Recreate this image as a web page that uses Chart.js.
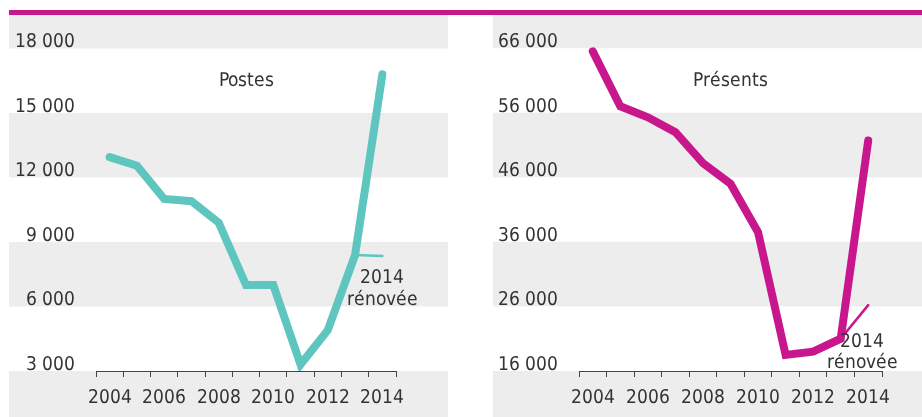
<!DOCTYPE html>
<html lang="fr">
<head>
<meta charset="utf-8">
<script src="https://cdn.jsdelivr.net/npm/chart.js@4"></script>
<style>
  @font-face {
    font-family: "Etroite";
    src: local("Liberation Sans Narrow"), local("LiberationSansNarrow"), local("LiberationSansNarrow-Regular"),
         local("DejaVu Sans Condensed"), local("DejaVuSansCondensed");
  }
  body { margin: 0; background: #fff; width: 922px; height: 417px; position: relative; overflow: hidden; }
  #barre { position: absolute; left: 9px; top: 10px; width: 913px; height: 5px; background: #c8178c; }
  .panneau { position: absolute; top: 15px; }
</style>
</head>
<body>
<div id="barre"></div>
<canvas id="graphePostes" class="panneau" width="439" height="402" style="left:9px"></canvas>
<canvas id="graphePresents" class="panneau" width="429" height="402" style="left:493px"></canvas>
<script>
const annees = ["2004", "2005", "2006", "2007", "2008", "2009", "2010", "2011", "2012", "2013", "2014"];

const postes = [12950, 12550, 11000, 10900, 9900, 7000, 7000, 3300, 4900, 8400, 16800];
const postesRenovee = [null, null, null, null, null, null, null, null, null, 8400, 8350];
const ticksPostes = [3000, 6000, 9000, 12000, 15000, 18000];

const presents = [65500, 57000, 55300, 53000, 48200, 45000, 37500, 18500, 19000, 21000, 51700];
const presentsRenovee = [null, null, null, null, null, null, null, null, null, 21000, 26200];
const ticksPresents = [16000, 26000, 36000, 46000, 56000, 66000];

const police = "Etroite, Roboto, sans-serif";
const taille = 19;
const gris = "#ededed";
const texte = "#333333";

function formaterMilliers(v) {
    return String(v).replace(/\B(?=(\d{3})+(?!\d))/g, " ");
}

// Bandes grises alternées, calées sur les graduations
const pluginBandes = {
    id: "bandes",
    beforeDraw(chart) {
        const { ctx, scales: { y } } = chart;
        const vals = y.ticks.map(t => t.value);
        const bords = [chart.height, ...vals.map(v => y.getPixelForValue(v)), 0];
        ctx.save();
        ctx.fillStyle = gris;
        for (let i = 0; i < bords.length - 1; i++) {
            if (i % 2 === 0) {
                ctx.fillRect(0, bords[i + 1], chart.width, bords[i] - bords[i + 1]);
            }
        }
        ctx.restore();
    }
};

// Titre du panneau et note "2014 rénovée"
const pluginTextes = {
    id: "textes",
    afterDatasetsDraw(chart, args, opts) {
        const { ctx, chartArea, scales: { x, y } } = chart;
        ctx.save();
        ctx.fillStyle = texte;
        ctx.font = taille + "px " + police;
        ctx.textAlign = "center";
        ctx.textBaseline = "middle";
        ctx.fillText(opts.titre, (chartArea.left + chartArea.right) / 2, chartArea.top + 66);

        const serie = chart.data.datasets[1].data;
        const n = serie.length - 1;
        const px = x.getPixelForValue(n) + opts.dx;
        const py = y.getPixelForValue(serie[n]) + opts.dy;
        ctx.fillText("2014", px, py);
        ctx.fillText("rénovée", px, py + opts.ecart);
        ctx.restore();
    }
};

function creerGraphe(id, valeurs, renovee, graduations, couleur, maxY, largeurAxe, droite, notes) {
    const ctx = document.getElementById(id).getContext("2d");
    return new Chart(ctx, {
        type: "line",
        data: {
            labels: annees,
            datasets: [{
                data: valeurs,
                borderColor: couleur,
                borderWidth: 8,
                borderCapStyle: "round",
                borderJoinStyle: "miter",
                pointRadius: 0,
                tension: 0
            }, {
                data: renovee,
                borderColor: couleur,
                borderWidth: 2.5,
                borderCapStyle: "round",
                pointRadius: 0,
                tension: 0
            }]
        },
        options: {
            responsive: false,
            animation: false,
            devicePixelRatio: 1,
            layout: { padding: { left: 0, right: droite, top: 0, bottom: 0 } },
            plugins: {
                legend: { display: false },
                tooltip: { enabled: false },
                textes: notes
            },
            scales: {
                x: {
                    type: "category",
                    offset: true,
                    afterFit: (s) => { s.height = 46; s.paddingLeft = 0; s.paddingRight = 0; },
                    grid: { offset: true, drawOnChartArea: false, drawTicks: true, tickLength: 6, color: "#444" },
                    border: { color: "#444", width: 1 },
                    ticks: {
                        autoSkip: false,
                        maxRotation: 0,
                        padding: 10,
                        color: texte,
                        font: { family: police, size: taille },
                        callback: (v, i) => (i % 2 === 0 ? annees[i] : "")
                    }
                },
                y: {
                    min: graduations[0],
                    max: maxY,
                    afterBuildTicks: (s) => { s.ticks = graduations.map(v => ({ value: v })); },
                    afterFit: (s) => { s.width = largeurAxe; s.paddingTop = 0; s.paddingBottom = 0; },
                    grid: { display: false, drawTicks: false },
                    border: { display: false },
                    ticks: {
                        padding: 21,
                        labelOffset: -6,
                        color: texte,
                        font: { family: police, size: taille },
                        callback: (v) => formaterMilliers(v)
                    }
                }
            }
        },
        plugins: [pluginBandes, pluginTextes]
    });
}

function dessiner() {
    creerGraphe("graphePostes", postes, postesRenovee, ticksPostes, "#5ec6bf", 19558, 87, 52,
        { titre: "Postes", dx: 0, dy: 22, ecart: 22 });
    creerGraphe("graphePresents", presents, presentsRenovee, ticksPresents, "#c8178c", 71140, 86, 40,
        { titre: "Présents", dx: -6, dy: 37, ecart: 21 });
}

document.fonts.load("19px Etroite").then(dessiner, dessiner);
</script>
</body>
</html>
